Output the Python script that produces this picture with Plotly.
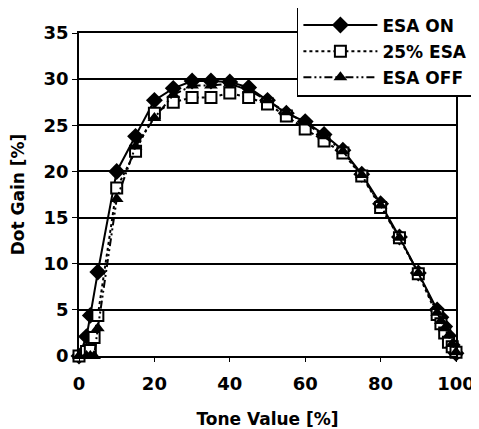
import plotly.graph_objects as go

tone = [0, 2, 3, 4, 5, 10, 15, 20, 25, 30, 35, 40, 45, 50, 55, 60, 65, 70, 75, 80, 85, 90, 95, 96, 97, 98, 99, 100]
esa_on = [0, 2.1, 4.4, None, 9.1, 20.0, 23.8, 27.7, 29.0, 29.8, 29.8, 29.7, 29.1, 27.7, 26.3, 25.4, 24.0, 22.3, 19.7, 16.5, 12.9, 9.0, 5.0, 4.2, 3.2, 2.2, 1.2, 0.3]
esa_25 = [0, 0.5, 0.6, 2.0, 4.4, 18.2, 22.2, 26.3, 27.5, 28.0, 28.0, 28.5, 28.0, 27.3, 26.0, 24.6, 23.3, 22.0, 19.5, 16.1, 12.8, 8.9, 4.5, 3.5, 2.5, 1.5, 1.0, 0.4]
esa_off = [0, 0, 0, 0, 3.0, 17.0, 22.7, 25.8, 28.3, 29.3, 29.3, 29.5, 28.8, 27.7, 26.4, 25.3, 23.8, 22.2, 19.6, 16.3, 12.8, 9.0, 4.7, 3.8, 3.0, 2.2, 1.3, 0.4]

font = "DejaVu Sans"
fig = go.Figure()
fig.add_trace(go.Scatter(
    x=tone, y=esa_on, name="ESA ON", mode="lines+markers", connectgaps=True,
    legendgroup="a",
    line=dict(color="black", width=2),
    marker=dict(symbol="diamond", size=13, color="black"),
    cliponaxis=False))
fig.add_trace(go.Scatter(
    x=tone, y=esa_25, name="25% ESA", mode="lines+markers",
    legendgroup="b",
    line=dict(color="black", width=2, dash="dot"),
    marker=dict(symbol="square", size=11, color="white", line=dict(color="black", width=2)),
    cliponaxis=False))
fig.add_trace(go.Scatter(
    x=tone, y=esa_off, name="ESA OFF", mode="lines+markers",
    legendgroup="c",
    line=dict(color="black", width=2, dash="8px,3px,2px,3px,2px,3px"),
    marker=dict(symbol="triangle-up", size=12, color="black"),
    cliponaxis=False))

fig.update_layout(
    width=471, height=421,
    margin=dict(l=71, r=23, t=25, b=73, autoexpand=False),
    paper_bgcolor="white", plot_bgcolor="white",
    font=dict(family=font, size=17, color="black"),
    showlegend=True,
    legend=dict(
        x=0.578, y=1.0836, xanchor="left", yanchor="top",
        bgcolor="white", bordercolor="black", borderwidth=1.5,
        font=dict(family=font, size=17, color="black", weight="bold"),
        itemwidth=74, tracegroupgap=1,
    ),
    xaxis=dict(
        range=[0, 100], dtick=20, tick0=0, automargin=False,
        showline=True, linecolor="black", linewidth=1.5, mirror=True,
        showgrid=False, zeroline=False,
        ticks="outside", ticklen=4, tickcolor="black", tickwidth=1,
        ticklabelstandoff=7,
        tickfont=dict(family=font, size=18, color="black", weight="bold"),
        title=dict(text="Tone Value [%]", standoff=22,
                   font=dict(family=font, size=17, color="black", weight="bold")),
    ),
    yaxis=dict(
        range=[0, 35], dtick=5, tick0=0, automargin=False,
        showline=True, linecolor="black", linewidth=1.5, mirror=True,
        showgrid=True, gridcolor="black", gridwidth=1.5, zeroline=False,
        ticks="outside", ticklen=5, tickcolor="black", tickwidth=1,
        tickfont=dict(family=font, size=18, color="black", weight="bold"),
        title=dict(text="Dot Gain [%]", standoff=17,
                   font=dict(family=font, size=17, color="black", weight="bold")),
    ),
)

fig.write_html("out.html")
